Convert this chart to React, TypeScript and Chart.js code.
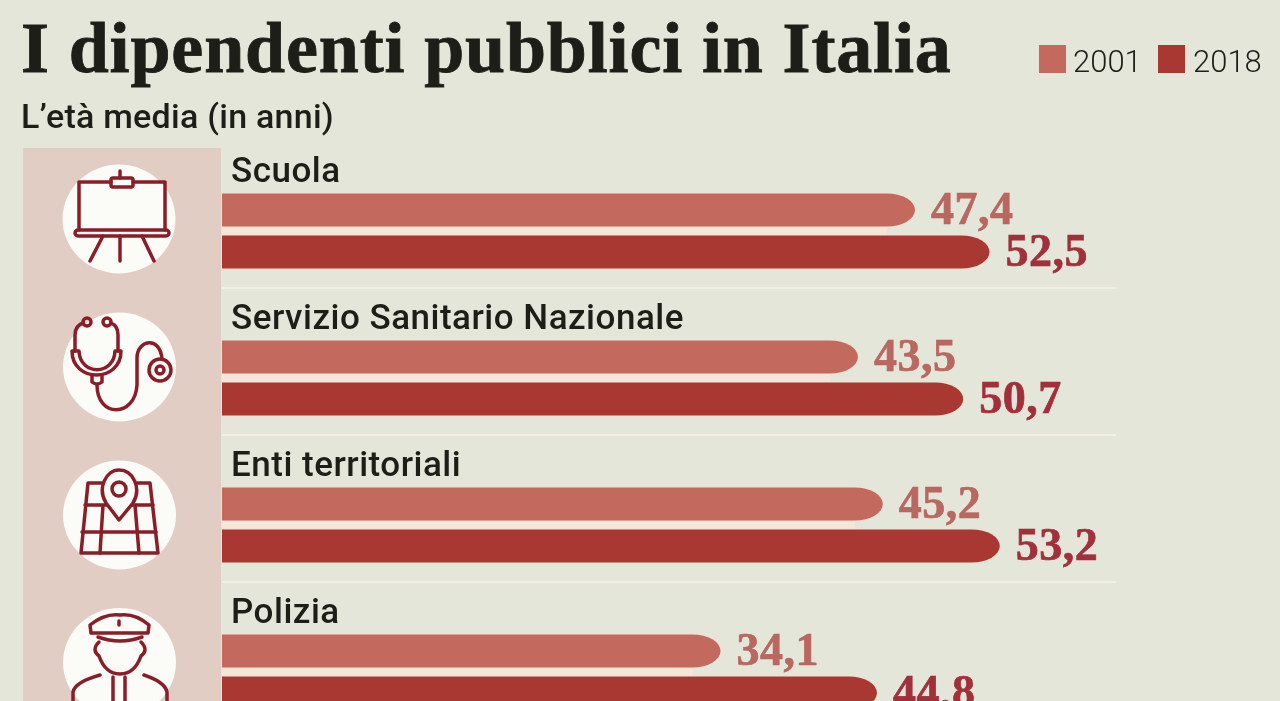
import React, { useEffect, useRef } from "react";
import { Chart, registerables, BarElement } from "chart.js";

Chart.register(...registerables);

const titleText = "I dipendenti pubblici in Italia";
const subtitleText = "L’età media (in anni)";
const categories = ["Scuola", "Servizio Sanitario Nazionale", "Enti territoriali", "Polizia"];
const seriesNames = ["2001", "2018"];
const values2001 = [47.4, 43.5, 45.2, 34.1];
const values2018 = [52.5, 50.7, 53.2, 44.8];
const barColors = ["#c4695d", "#a93833"];
const labelColors = ["#b9675f", "#a2303a"];
const INK = "#1d1e18";
const ICON = "#8a1e28";
const TIP = 28;

// The reference bars end in a long elliptical tip, with a thin pale halo.
(BarElement.prototype as any).draw = function (ctx: CanvasRenderingContext2D) {
  const { x, y, base, height } = (this as any).getProps(["x", "y", "base", "height"]);
  const r = height / 2;
  ctx.save();
  ctx.beginPath();
  ctx.moveTo(base, y - r);
  ctx.lineTo(x - TIP, y - r);
  ctx.ellipse(x - TIP, y, TIP, r, 0, -Math.PI / 2, Math.PI / 2);
  ctx.lineTo(base, y + r);
  ctx.closePath();
  ctx.fillStyle = (this as any).options.backgroundColor;
  ctx.strokeStyle = "rgba(246,226,212,0.75)";
  ctx.lineWidth = 1.5;
  ctx.stroke();
  ctx.fill();
  ctx.restore();
};

const overlayPlugin = {
  id: "overlay",
  beforeDatasetsDraw(chart: any) {
    const { ctx, scales } = chart;
    const x = scales.x;
    const y = scales.y;
    ctx.save();
    categories.forEach((_, i) => {
      const cy = y.getPixelForValue(i);
      ctx.fillStyle = "#f3f0e3";
      ctx.fillRect(x.left, cy + 56, 894, 2);
      ctx.fillStyle = "#f4e6d9";
      const end = x.getPixelForValue(Math.min(values2001[i], values2018[i]));
      ctx.fillRect(x.left, cy - 5, end - x.left - TIP, 9);
    });
    ctx.restore();
  },
  afterDatasetsDraw(chart: any) {
    const { ctx, scales } = chart;
    const y = scales.y;
    ctx.save();
    ctx.textBaseline = "alphabetic";
    ctx.textAlign = "left";
    chart.data.labels.forEach((label: string, i: number) => {
      const cy = y.getPixelForValue(i);
      ctx.font = "500 35px 'Roboto'";
      ctx.fillStyle = INK;
      (ctx as any).letterSpacing = "0.5px";
      ctx.fillText(label, 231, cy - 49.5);
    });
    chart.data.datasets.forEach((ds: any, d: number) => {
      const meta = chart.getDatasetMeta(d);
      meta.data.forEach((bar: any, i: number) => {
        const text = String(ds.data[i]).replace(".", ",");
        ctx.font = "bold 46px 'Liberation Serif'";
        (ctx as any).letterSpacing = "0.5px";
        ctx.fillStyle = labelColors[d];
        ctx.strokeStyle = labelColors[d];
        ctx.lineWidth = 0.7;
        ctx.fillText(text, bar.x + 16, bar.y + 14);
        ctx.strokeText(text, bar.x + 16, bar.y + 14);
      });
    });
    ctx.restore();
  },
};

function Icons() {
  const common = { fill: "none", stroke: ICON, strokeWidth: 3.5, strokeLinecap: "round" as const, strokeLinejoin: "round" as const };
  return (
    <svg width={1280} height={701} style={{ position: "absolute", left: 0, top: 0 }}>
      <ellipse cx={119} cy={219} rx={56.5} ry={54.5} fill="#fbfbf8" />
      <ellipse cx={119.5} cy={367} rx={56.5} ry={54.5} fill="#fbfbf8" />
      <ellipse cx={119.5} cy={515} rx={56.5} ry={54.5} fill="#fbfbf8" />
      <ellipse cx={119.5} cy={662.5} rx={56.5} ry={54.5} fill="#fbfbf8" />
      <g {...common}>
        <path d="M79 230V182H111M133 182H165V230" />
        <rect x={111} y={178} width={22} height={9} rx={2} />
        <path d="M120 171V178" />
        <rect x={75} y={230} width={94} height={6} rx={3} />
        <path d="M103 236L90 261M120 236V261M142 236L154 261" />
      </g>
      <g {...common}>
        <circle cx={87} cy={322} r={4} />
        <circle cx={107} cy={322} r={4} />
        <path d="M83 323C77 325 75 329 75 335V351M111 323C116 325 118 329 118 335V351" />
        <path d="M72 351H79C80 376 114 376 115 351H121C121 383 72 383 72 351Z" />
        <path d="M92 376V382Q97 386 102 382V376" />
        <path d="M97 385C97 418 135 418 137 385V358C137 340 160 335 162 359" />
        <circle cx={160} cy={370} r={11} />
        <circle cx={160} cy={370} r={4} />
      </g>
      <g {...common}>
        <path d="M102 483H88L81 553H158L150 483H137" />
        <path d="M85 505H106M132 505H153M82 532H156M103 505L100 553M135 505L139 553" />
        <path d="M119 520L106 503C97 488 106 470 119 470C133 470 142 488 133 503Z" />
        <circle cx={119} cy={489} r={7} />
      </g>
      <g {...common}>
        <path d="M90 625Q105 613 120 615Q135 613 149 625L148 633H91Z" />
        <path d="M98 637Q120 645 142 637" />
        <path d="M119 621V625" />
        <path d="M99 642Q91 650 99 656C104 670 112 674 120 674C128 674 136 670 141 656Q149 650 141 642" />
        <path d="M73 701V692Q75 682 100 675M167 701V692Q165 682 144 675M113 677V701M125 677V701" />
      </g>
    </svg>
  );
}

export default function App() {
  const ref = useRef<HTMLCanvasElement | null>(null);
  useEffect(() => {
    document.body.style.margin = "0";
    document.body.style.background = "#e3e6d9";
    const chart = new Chart(ref.current as HTMLCanvasElement, {
      type: "bar",
      data: {
        labels: categories,
        datasets: [values2001, values2018].map((data, i) => ({
          label: seriesNames[i],
          data,
          backgroundColor: barColors[i],
          categoryPercentage: 84 / 147,
          barPercentage: 33 / 42,
          borderWidth: 0,
          borderSkipped: false,
        })),
      },
      options: {
        indexAxis: "y",
        animation: false,
        responsive: false,
        layout: { padding: { left: 222, right: 180.8, top: 157.5, bottom: 54.5 } },
        scales: {
          x: { display: false, min: 0, max: 60 },
          y: { display: false },
        },
        plugins: { legend: { display: false }, title: { display: false }, tooltip: { enabled: false } },
      },
      plugins: [overlayPlugin],
    } as any);
    return () => chart.destroy();
  }, []);

  const abs = (s: React.CSSProperties): React.CSSProperties => ({ position: "absolute", whiteSpace: "nowrap", ...s });
  return (
    <div style={{ position: "fixed", left: 0, top: 0, width: 1280, height: 701, overflow: "hidden", background: "#e3e6d9" }}>
      <div style={abs({ left: 23, top: 148, width: 198, height: 553, background: "#e2cdc4" })} />
      <canvas ref={ref} width={1280} height={800} style={{ position: "absolute", left: 0, top: 0 }} />
      <Icons />
      <div style={abs({ left: 21, top: 11, font: "bold 72px/74px 'Liberation Serif'", letterSpacing: "0.85px", WebkitTextStroke: "0.8px " + INK, color: INK })}>{titleText}</div>
      <div style={abs({ left: 21, top: 97, font: "500 34px/38px Roboto", letterSpacing: "0.25px", color: INK })}>{subtitleText}</div>
      {seriesNames.map((n, i) => (
        <React.Fragment key={n}>
          <div style={abs({ left: 1039 + i * 119, top: 45, width: 27, height: 28, background: barColors[i] })} />
          <div style={abs({ left: 1073 + i * 120, top: 42, font: "300 31px/40px Roboto", color: INK })}>{n}</div>
        </React.Fragment>
      ))}
    </div>
  );
}
